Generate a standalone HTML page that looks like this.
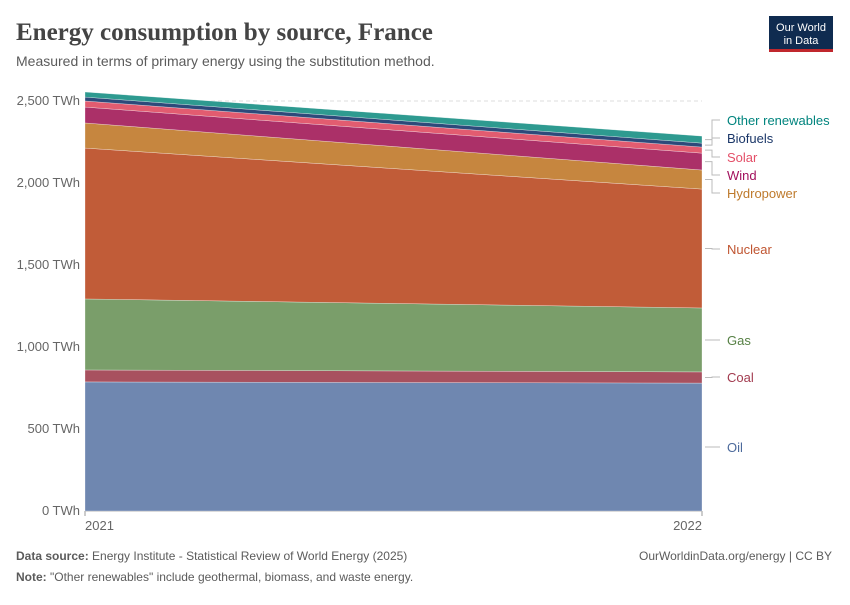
<!DOCTYPE html>
<html><head><meta charset="utf-8"><style>
body{margin:0;background:#fff;font-family:"Liberation Sans",sans-serif;}
</style></head><body>
<svg width="850" height="600" font-family="Liberation Sans, sans-serif">
<text x="16" y="40" style="font-family:'Liberation Serif',serif;font-weight:bold" font-size="25" fill="#444">Energy consumption by source, France</text>
<text x="16" y="66" font-size="14" fill="#5b5b5b">Measured in terms of primary energy using the substitution method.</text>
<g><rect x="769" y="16" width="64" height="34" fill="#0f2b50"/><rect x="769" y="49" width="64" height="3" fill="#c0272d"/>
<text x="801" y="31" font-size="11" fill="#fff" text-anchor="middle">Our World</text><text x="801" y="44" font-size="11" fill="#fff" text-anchor="middle">in Data</text></g>
<g id="grid"></g><g id="areas"></g><g id="labels"></g>
<text x="16" y="560" font-size="12" fill="#5b5b5b"><tspan font-weight="bold">Data source:</tspan> Energy Institute - Statistical Review of World Energy (2025)</text>
<text x="832" y="560" font-size="12" fill="#5b5b5b" text-anchor="end">OurWorldinData.org/energy | CC BY</text>
<text x="16" y="581" font-size="12" fill="#5b5b5b"><tspan font-weight="bold">Note:</tspan> "Other renewables" include geothermal, biomass, and waste energy.</text>
</svg>
<script>
const years=["2021","2022"];
const series=["Oil","Coal","Gas","Nuclear","Hydropower","Wind","Solar","Biofuels","Other renewables"];
const oil=[787,780];
const coal=[73,68];
const gas=[433,390];
const nuclear=[920,725];
const hydro=[153,116];
const wind=[97,103];
const solar=[37,37];
const biofuels=[24,24];
const other=[31,43];
const yTicks=[0,500,1000,1500,2000,2500];
const values=[oil,coal,gas,nuclear,hydro,wind,solar,biofuels,other];
const fills=["#6f87b0","#a8515f","#7a9e6a","#c15c38","#c6863f","#ab3068","#e25c70","#2d4a7a","#2e9a90"];
const lblColors=["#4c6a9c","#a23b4f","#578145","#c05531","#be7a2c","#a2105d","#e44f68","#1a3668","#00847e"];
const lblY=[451,381,344,253,197,179,161,142,124];
const NS="http://www.w3.org/2000/svg";
const x0=85,x1=702,y0=511,ky=82/500;
const X=i=>x0+(x1-x0)*i/(years.length-1);
const Y=v=>y0-v*ky;
const grid=document.getElementById('grid');
function mk(t,a,p){const e=document.createElementNS(NS,t);for(const k in a)e.setAttribute(k,a[k]);p.appendChild(e);return e;}
yTicks.forEach(v=>{
 if(v>0){const l=mk('line',{x1:x0,x2:x1,y1:Y(v),y2:Y(v),stroke:'#ddd','stroke-dasharray':'4,3'},grid);
 
 }
 const t=mk('text',{x:80,y:Y(v)+4,'font-size':13,fill:'#666','text-anchor':'end'},grid);t.textContent=v.toLocaleString('en-US')+' TWh';
 
 
});
mk('line',{x1:x0,x2:x1,y1:y0,y2:y0,stroke:'#999'},grid);
years.forEach((yr,i)=>{const t=mk('text',{x:X(i),y:530,'font-size':13,fill:'#666','text-anchor':i==0?'start':'end'},grid);t.textContent=yr;
 
 
 mk('line',{x1:X(i),x2:X(i),y1:y0,y2:y0+5,stroke:'#999'},grid);});
const areas=document.getElementById('areas');
const base=years.map(()=>0);
const tops=[];
values.forEach((vals,s)=>{
 const top=vals.map((v,i)=>base[i]+v);
 let d='M'+years.map((_,i)=>X(i)+','+Y(top[i])).join('L');
 for(let i=years.length-1;i>=0;i--)d+='L'+X(i)+','+Y(base[i]);
 const p=mk('path',{d:d+'Z',fill:fills[s],stroke:'#fff','stroke-width':0.3},areas);
 
 
 tops.push((base[base.length-1]+top[top.length-1])/2);
 top.forEach((v,i)=>base[i]=v);
});
const labels=document.getElementById('labels');
series.forEach((s,i)=>{
 const ym=Y(tops[i]),yl=lblY[i]-4;
 mk('path',{d:`M705,${ym}H712V${yl}H720`,fill:'none',stroke:'#bbb'},labels);
 const t=mk('text',{x:727,y:lblY[i]+1,'font-size':13,fill:lblColors[i]},labels);t.textContent=s;
 
 
});
</script>
</body></html>
